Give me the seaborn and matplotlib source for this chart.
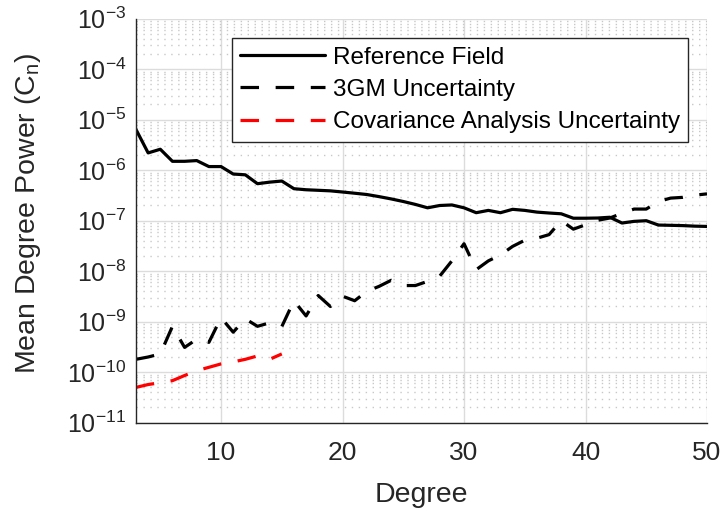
import numpy as np
import pandas as pd
import matplotlib
matplotlib.use("Agg")
import matplotlib.pyplot as plt
import seaborn as sns
from matplotlib.ticker import FixedLocator, NullFormatter, LogLocator

# ---- data ----
degree = list(range(3, 51))
reference_field = [6.4e-6, 2.2e-6, 2.6e-6, 1.5e-6, 1.5e-6, 1.55e-6, 1.18e-6, 1.18e-6,
                   8.4e-7, 8.1e-7, 5.4e-7, 5.8e-7, 6.1e-7, 4.3e-7, 4.1e-7, 4.0e-7,
                   3.9e-7, 3.7e-7, 3.5e-7, 3.3e-7, 3.0e-7, 2.7e-7, 2.4e-7, 2.1e-7,
                   1.8e-7, 2.0e-7, 2.05e-7, 1.8e-7, 1.44e-7, 1.6e-7, 1.44e-7, 1.68e-7,
                   1.6e-7, 1.48e-7, 1.42e-7, 1.37e-7, 1.12e-7, 1.12e-7, 1.13e-7, 1.17e-7,
                   9.0e-8, 9.7e-8, 1.0e-7, 8.2e-8, 8.1e-8, 8.0e-8, 7.8e-8, 7.7e-8]
gm3_uncertainty = [1.8e-10, 2.0e-10, 2.3e-10, 8.1e-10, 3.1e-10, 4.5e-10, 3.9e-10, 1.2e-9,
                   6.2e-10, 1.14e-9, 8.1e-10, 9.5e-10, 8.0e-10, 2.6e-9, 1.3e-9, 3.3e-9,
                   2.0e-9, 3.2e-9, 2.6e-9, 4.0e-9, 5.0e-9, 6.6e-9, 5.2e-9, 5.2e-9,
                   6.3e-9, 8.0e-9, 1.6e-8, 3.5e-8, 1.07e-8, 1.6e-8, 2.1e-8, 3.1e-8,
                   4.1e-8, 4.5e-8, 5.3e-8, 1.0e-7, 6.8e-8, 8.3e-8, 1.02e-7, 1.13e-7,
                   1.4e-7, 1.7e-7, 1.7e-7, 2.4e-7, 2.8e-7, 2.9e-7, 3.2e-7, 3.4e-7]
cov_degree = list(range(3, 16))
cov_uncertainty = [5.0e-11, 5.7e-11, 6.2e-11, 6.8e-11, 8.6e-11, 1.07e-10, 1.25e-10,
                   1.46e-10, 1.6e-10, 1.8e-10, 2.1e-10, 1.8e-10, 2.3e-10]

x_ticks = [10, 20, 30, 40, 50]
y_exps = list(range(-11, -2))
labels = ["Reference Field", "3GM Uncertainty", "Covariance Analysis Uncertainty"]

# ---- style ----
sns.set_style("white")
plt.rcParams['font.family'] = ['Liberation Sans', 'DejaVu Sans']
plt.rcParams['mathtext.fontset'] = 'custom'
plt.rcParams['mathtext.rm'] = 'Liberation Sans'
plt.rcParams['mathtext.it'] = 'Liberation Sans:italic'
plt.rcParams['mathtext.bf'] = 'Liberation Sans:bold'

df_ref = pd.DataFrame({"Degree": degree, "Value": reference_field})
df_3gm = pd.DataFrame({"Degree": degree, "Value": gm3_uncertainty})
df_cov = pd.DataFrame({"Degree": cov_degree, "Value": cov_uncertainty})

fig = plt.figure(figsize=(7.24, 5.12), dpi=100)
ax = fig.add_axes([136/724, (512-422.7)/512, 571/724, 404/512])

lw = 2.3
sns.lineplot(data=df_ref, x="Degree", y="Value", ax=ax, color="black", lw=lw,
             label=labels[0])
sns.lineplot(data=df_3gm, x="Degree", y="Value", ax=ax, color="black", lw=lw,
             linestyle=(0, (5.8, 5.2)), label=labels[1])
sns.lineplot(data=df_cov, x="Degree", y="Value", ax=ax, color="#ff0000", lw=lw,
             linestyle=(0, (5.8, 5.2)), label=labels[2])

ax.set_yscale("log")
ax.set_xlim(3, 50)
ax.set_ylim(1e-11, 1e-3)

ax.xaxis.set_major_locator(FixedLocator(x_ticks))
ax.set_xticklabels([str(t) for t in x_ticks])
ax.yaxis.set_major_locator(FixedLocator([10.0**e for e in y_exps]))
ax.set_yticklabels([r"$10^{%d}$" % e for e in y_exps])
ax.yaxis.set_minor_locator(LogLocator(base=10, subs=np.arange(2, 10), numticks=100))
ax.yaxis.set_minor_formatter(NullFormatter())

ax.grid(True, which="major", axis="both", color="#dcdcdc", lw=1.0, ls="-")
ax.grid(True, which="minor", axis="y", color="#c8c8c8", lw=1.0, ls=(0, (1, 4)))
ax.set_axisbelow(True)

for s in ["top", "right"]:
    ax.spines[s].set_visible(False)
for s in ["left", "bottom"]:
    ax.spines[s].set_color("#262626")
    ax.spines[s].set_linewidth(1.0)

ax.tick_params(axis="both", which="major", direction="in", length=5, width=1,
               colors="#262626", labelcolor="#262626")
ax.tick_params(axis="x", labelsize=19, pad=13)
ax.tick_params(axis="y", labelsize=18, pad=7)
ax.tick_params(axis="y", which="minor", direction="in", length=3, width=0.8,
               colors="#262626")

ax.set_xlabel("Degree", fontsize=20.5, color="#262626", va="center")
ax.xaxis.set_label_coords(0.5, -0.18)
ax.set_ylabel(r"Mean Degree Power (C$_\mathrm{n}$)", fontsize=20.5, color="#262626",
              va="center")
ax.yaxis.set_label_coords(-0.189, 0.519)

leg = ax.legend(loc="upper right", bbox_to_anchor=(0.967, 0.952), borderaxespad=0,
                fontsize=17.5, handlelength=3.5, frameon=True, fancybox=False,
                framealpha=1, edgecolor="#262626", borderpad=0.35, labelspacing=0.42,
                handletextpad=0.3)
leg.get_frame().set_linewidth(1.0)
for t in leg.get_texts():
    t.set_color("#000000")

fig.savefig("out.png", dpi=100)
